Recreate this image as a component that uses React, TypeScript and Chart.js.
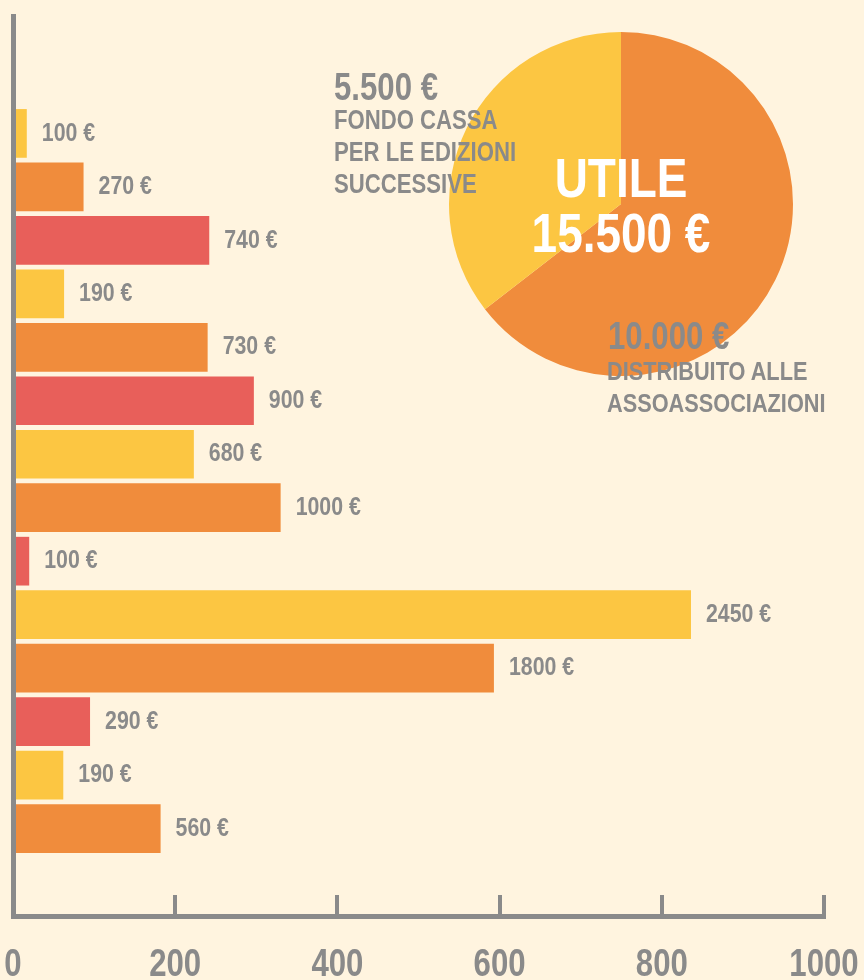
import React, { useEffect, useRef } from "react";
import { Chart, registerables, LinearScale } from "chart.js";

Chart.register(...registerables);

// Euro amounts written next to each bar (top to bottom)
const amounts = [100, 270, 740, 190, 730, 900, 680, 1000, 100, 2450, 1800, 290, 190, 560];
// Bar lengths as read against the 0–1000 bottom axis (top to bottom)
const barLengths = [17, 87, 242, 63, 240, 297, 223, 330, 20, 836, 593, 95, 62, 182];
// Bottom axis tick values
const xTickValues = [0, 200, 400, 600, 800, 1000];

// Pie: profit split
const pieLabels = ["DISTRIBUITO ALLE ASSOASSOCIAZIONI", "FONDO CASSA PER LE EDIZIONI SUCCESSIVE"];
const pieValues = [10000, 5500];

const BG = "#FFF4DF";
const YELLOW = "#FCC642";
const ORANGE = "#F08C3C";
const RED = "#E85F5A";
const GRAY = "#8A8A8A";
const barPalette = [YELLOW, ORANGE, RED];
const pieColors = [ORANGE, YELLOW];
const FONT = "'Liberation Sans', Arial, sans-serif";
const NARROW = 0.82;

// Linear scale whose tick labels are drawn horizontally condensed (Arial Narrow look)
class NarrowLinearScale extends (LinearScale as any) {
  drawLabels(chartArea: any) {
    const ctx: any = (this as any).ctx;
    const orig = ctx.fillText;
    ctx.fillText = function (text: string, x: number, y: number) {
      this.save();
      this.translate(x, y);
      this.scale(NARROW, 1);
      orig.call(this, text, 0, 0);
      this.restore();
    };
    try {
      super.drawLabels(chartArea);
    } finally {
      delete ctx.fillText;
    }
  }
}
(NarrowLinearScale as any).id = "narrowLinear";
(NarrowLinearScale as any).defaults = (LinearScale as any).defaults;
Chart.register(NarrowLinearScale as any);

const barLabelPlugin = {
  id: "barLabels",
  afterDatasetsDraw(chart: any) {
    const ctx = chart.ctx;
    const meta = chart.getDatasetMeta(0);
    ctx.save();
    ctx.font = `bold 26px ${FONT}`;
    ctx.fillStyle = GRAY;
    ctx.textBaseline = "middle";
    ctx.textAlign = "left";
    meta.data.forEach((bar: any, i: number) => {
      ctx.save();
      ctx.translate(bar.x + 15, bar.y);
      ctx.scale(NARROW, 1);
      ctx.fillText(`${amounts[i]} €`, 0, 0);
      ctx.restore();
    });
    ctx.restore();
  },
};

export default function App() {
  const barRef = useRef<HTMLCanvasElement | null>(null);
  const pieRef = useRef<HTMLCanvasElement | null>(null);

  useEffect(() => {
    document.body.style.margin = "0";
    document.body.style.background = BG;
    const bar = new Chart(barRef.current as HTMLCanvasElement, {
      type: "bar",
      data: {
        datasets: [
          {
            data: barLengths.map((v, i) => ({ x: v, y: i })),
            backgroundColor: barLengths.map((_, i) => barPalette[i % 3]),
            borderWidth: 0,
            categoryPercentage: 1,
            barPercentage: 0.911,
          },
        ],
      },
      options: {
        indexAxis: "y",
        responsive: false,
        animation: false,
        layout: { padding: { left: 13, top: 16, right: 40, bottom: 0 } },
        plugins: { legend: { display: false }, tooltip: { enabled: false } },
        scales: {
          x: {
            type: "narrowLinear",
            position: "bottom",
            min: 0,
            max: 1000,
            afterFit: (s: any) => {
              s.height = 64;
              s.paddingLeft = 0;
              s.paddingRight = 0;
            },
            afterBuildTicks: (s: any) => {
              s.ticks = xTickValues.map((v) => ({ value: v }));
            },
            grid: {
              drawOnChartArea: false,
              drawTicks: true,
              tickLength: -21,
              color: GRAY,
              lineWidth: 4,
            },
            border: { display: true, color: GRAY, width: 5 },
            ticks: {
              padding: 51.5,
              color: GRAY,
              autoSkip: false,
              maxRotation: 0,
              callback: (v: any) => String(v),
              font: { family: FONT, size: 38, weight: "bold", lineHeight: 1 },
            },
          },
          y: {
            type: "linear",
            position: "left",
            reverse: true,
            offset: false,
            bounds: "data",
            min: -2.196,
            max: 14.636,
            z: 1,
            afterFit: (s: any) => {
              s.width = 0;
            },
            afterBuildTicks: (s: any) => {
              s.ticks = amounts.map((_, i) => ({ value: i }));
            },
            grid: { display: false, drawTicks: false },
            ticks: { display: false },
            border: { display: true, color: GRAY, width: 5, z: 1 },
          },
        },
      } as any,
      plugins: [barLabelPlugin],
    });

    const pie = new Chart(pieRef.current as HTMLCanvasElement, {
      type: "pie",
      data: {
        labels: pieLabels,
        datasets: [
          {
            data: pieValues,
            backgroundColor: pieColors,
            borderWidth: 0,
            hoverOffset: 0,
          },
        ],
      },
      options: {
        responsive: false,
        animation: false,
        layout: { padding: 10 },
        plugins: { legend: { display: false }, tooltip: { enabled: false } },
      } as any,
    });

    return () => {
      bar.destroy();
      pie.destroy();
    };
  }, []);

  const textBase: React.CSSProperties = {
    position: "absolute",
    margin: 0,
    whiteSpace: "nowrap",
    fontFamily: FONT,
    fontWeight: "bold",
    color: GRAY,
    transform: `scaleX(${NARROW})`,
    transformOrigin: "0 0",
  };

  return (
    <div
      style={{
        position: "absolute",
        left: 0,
        top: 0,
        width: 864,
        height: 980,
        overflow: "hidden",
        background: BG,
      }}
    >
      <canvas
        ref={barRef}
        width={864}
        height={980}
        style={{ position: "absolute", left: 0, top: 0, display: "block" }}
      />
      <canvas
        ref={pieRef}
        width={364}
        height={364}
        style={{ position: "absolute", left: 439, top: 22, display: "block" }}
      />
      <div style={{ ...textBase, left: 334, top: 68, fontSize: 38, lineHeight: "38px" }}>5.500 €</div>
      <div style={{ ...textBase, left: 334, top: 104, fontSize: 27, lineHeight: "32px" }}>
        FONDO CASSA
        <br />
        PER LE EDIZIONI
        <br />
        SUCCESSIVE
      </div>
      <div
        style={{
          ...textBase,
          left: 421,
          width: 400,
          textAlign: "center",
          transformOrigin: "50% 0",
          top: 150,
          fontSize: 56,
          lineHeight: "55px",
          color: "#FFFFFF",
        }}
      >
        UTILE
        <br />
        15.500 €
      </div>
      <div style={{ ...textBase, left: 608, top: 317, fontSize: 38, lineHeight: "38px" }}>10.000 €</div>
      <div style={{ ...textBase, left: 607, top: 356, fontSize: 26.5, lineHeight: "31.5px" }}>
        DISTRIBUITO ALLE
        <br />
        ASSOASSOCIAZIONI
      </div>
    </div>
  );
}
